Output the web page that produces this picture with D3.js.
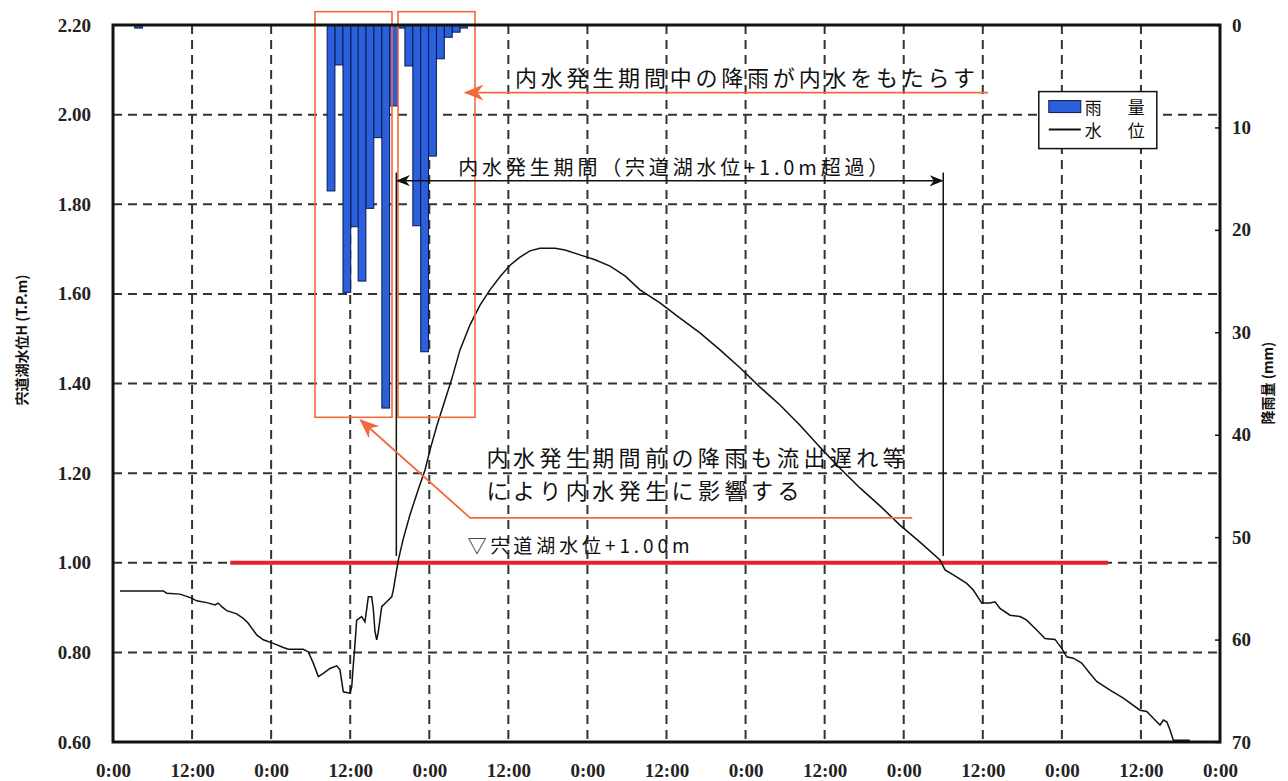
<!DOCTYPE html>
<html>
<head>
<meta charset="utf-8">
<script src="https://cdn.jsdelivr.net/npm/d3@7"></script>
<style>
  body { margin: 0; background: #fff; }
  .tick-label { font-family: "Liberation Serif", "DejaVu Serif", serif; font-size: 19px; font-weight: bold; fill: #222; }
  .jp { font-family: "Noto Sans CJK JP", sans-serif; fill: #111; }
  .axis-title { font-family: "Noto Sans CJK JP", sans-serif; fill: #111; font-weight: bold; font-size: 14px; }
</style>
</head>
<body>
<div id="chart"></div>
<script>
// water level (hours from start, T.P.m)
var levelHours = [1.06, 7.63, 8.15, 10.17, 11.94, 12.70, 14.22, 15.48, 15.98, 16.50, 17.26, 18.77, 19.77, 20.53, 21.81, 22.81,
  24.33, 25.85, 26.60, 28.88, 29.64, 30.40, 31.16, 31.92, 32.93, 33.95, 34.45, 34.95, 35.97, 36.23, 36.47, 36.73, 36.98,
  37.74, 38.24, 38.75, 39.26, 39.50, 39.76, 40.02, 40.26, 40.78, 41.54, 42.30, 42.54, 43.05, 43.30,
  44.01, 45.07, 46.29, 47.35, 48.11, 49.17, 50.39, 51.45, 52.66, 54.18, 55.70, 57.21, 58.73, 60.25, 61.77, 63.28, 64.80,
  67.08, 68.60, 70.87, 73.15, 75.43, 77.70, 79.98, 83.01, 86.05, 89.08, 92.12, 95.15, 98.19, 101.22, 104.26, 107.29,
  110.33, 113.36, 116.40, 119.43, 122.47, 125.50,
  126.27, 127.53, 129.56, 130.56, 131.84, 133.10, 133.85, 134.61, 136.13, 137.65, 138.67, 140.18, 141.44, 142.96, 143.98,
  144.74, 145.74, 147.01, 148.27, 149.29, 151.31, 153.33, 155.86, 156.88, 157.88, 158.90, 159.40, 159.92, 160.42, 160.92, 163.44];
var levelValues = [0.937, 0.937, 0.932, 0.930, 0.921, 0.915, 0.911, 0.906, 0.910, 0.902, 0.893, 0.886, 0.876, 0.865, 0.839, 0.828,
  0.820, 0.811, 0.807, 0.807, 0.801, 0.776, 0.746, 0.753, 0.764, 0.770, 0.761, 0.712, 0.709, 0.723, 0.772, 0.820, 0.872,
  0.880, 0.868, 0.924, 0.924, 0.898, 0.846, 0.828, 0.846, 0.902, 0.913, 0.924, 0.939, 0.984, 1.006,
  1.051, 1.107, 1.162, 1.207, 1.252, 1.307, 1.363, 1.412, 1.475, 1.531, 1.575, 1.609, 1.638, 1.664, 1.682, 1.696, 1.702,
  1.702, 1.698, 1.687, 1.676, 1.662, 1.640, 1.609, 1.580, 1.546, 1.513, 1.475, 1.435, 1.392, 1.352, 1.307, 1.258,
  1.211, 1.167, 1.127, 1.084, 1.046, 1.006,
  0.984, 0.973, 0.954, 0.939, 0.910, 0.910, 0.913, 0.898, 0.883, 0.880, 0.872, 0.850, 0.831, 0.829, 0.809,
  0.790, 0.787, 0.776, 0.753, 0.735, 0.716, 0.698, 0.671, 0.668, 0.653, 0.638, 0.649, 0.645, 0.627, 0.604, 0.604];

// rainfall (bar start hour, mm)
var rainHours = [3.3, 32.5, 33.7, 34.9, 36.1, 37.2, 38.4, 39.6, 40.8, 42.0, 43.2, 44.3, 45.5, 46.7, 47.9, 49.1, 50.3, 51.5, 52.6];
var rainValues = [0.3, 16.2, 3.9, 26.1, 19.7, 25.0, 17.9, 11.0, 37.4, 7.9, 0.3, 4.0, 19.6, 31.9, 12.8, 3.3, 1.2, 0.7, 0.3];
var rainStep = 1.18;

var timeTicks = d3.range(0, 169, 12);
var levelTicks = [0.6, 0.8, 1.0, 1.2, 1.4, 1.6, 1.8, 2.0, 2.2];
var rainTicks = [0, 10, 20, 30, 40, 50, 60, 70];

var width = 1288, height = 781;
var margin = {top: 25, right: 68, bottom: 39, left: 113};
var plotWidth = width - margin.left - margin.right;
var plotHeight = height - margin.top - margin.bottom;

var xs = d3.scaleLinear().domain([0, 168]).range([0, plotWidth]);
var ys = d3.scaleLinear().domain([0.6, 2.2]).range([plotHeight, 0]);
var rs = d3.scaleLinear().domain([0, 70]).range([0, plotHeight]);

var orange = "#f26a3c";

var svg = d3.select("#chart").append("svg").attr("width", width).attr("height", height);
var defs = svg.append("defs");
function marker(id, color, w) {
    defs.append("marker").attr("id", id)
        .attr("viewBox", "0 0 10 10").attr("refX", 9).attr("refY", 5)
        .attr("markerWidth", w).attr("markerHeight", w).attr("orient", "auto-start-reverse")
        .attr("markerUnits", "userSpaceOnUse")
        .append("path").attr("d", "M0,1 L10,5 L0,9 L3,5 Z").attr("fill", color);
}
marker("arrBlack", "#111", 14);
marker("arrOrange", orange, 20);

var plotArea = svg.append("g").attr("transform", "translate(" + margin.left + "," + margin.top + ")");

// grid
var grid = plotArea.append("g").attr("stroke", "#333").attr("stroke-width", 2).attr("stroke-dasharray", "9,6");
grid.selectAll(".gx").data(timeTicks.slice(1, -1)).enter().append("line")
    .attr("x1", function(d){ return xs(d); }).attr("x2", function(d){ return xs(d); })
    .attr("y1", 0).attr("y2", plotHeight);
grid.selectAll(".gy").data(levelTicks.slice(1, -1)).enter().append("line")
    .attr("x1", 0).attr("x2", plotWidth)
    .attr("y1", function(d){ return ys(d); }).attr("y2", function(d){ return ys(d); });

// rain bars hanging from the top
plotArea.append("g").selectAll("rect").data(rainValues).enter().append("rect")
    .attr("x", function(d, i){ return xs(rainHours[i]); })
    .attr("y", 0)
    .attr("width", function(d, i){ return xs(rainHours[i] + rainStep) - xs(rainHours[i]); })
    .attr("height", function(d){ return rs(d); })
    .attr("fill", "#2b5fdc").attr("stroke", "#0a1a50").attr("stroke-width", 1);

// +1.00m line
plotArea.append("line")
    .attr("x1", xs(17.8)).attr("x2", xs(151.0))
    .attr("y1", ys(1.0)).attr("y2", ys(1.0))
    .attr("stroke", "#e8202a").attr("stroke-width", 4);

// water level
var line = d3.line()
    .x(function(d, i){ return xs(levelHours[i]); })
    .y(function(d){ return ys(d); });
plotArea.append("path").datum(levelValues)
    .attr("d", line).attr("fill", "none").attr("stroke", "#111").attr("stroke-width", 1.5);

// orange boxes around rain groups
var boxes = [[30.65, 42.34], [43.25, 54.94]];
plotArea.selectAll(".box").data(boxes).enter().append("rect")
    .attr("x", function(d){ return xs(d[0]); })
    .attr("width", function(d){ return xs(d[1]) - xs(d[0]); })
    .attr("y", rs(-1.3)).attr("height", rs(38.3) - rs(-1.3))
    .attr("fill", "none").attr("stroke", orange).attr("stroke-width", 1.6);

// period markers
var periodStart = 43.0, periodEnd = 126.0;
plotArea.selectAll(".pv").data([periodStart, periodEnd]).enter().append("line")
    .attr("x1", function(d){ return xs(d); }).attr("x2", function(d){ return xs(d); })
    .attr("y1", rs(14.4)).attr("y2", ys(1.015))
    .attr("stroke", "#111").attr("stroke-width", 1.5);
plotArea.append("line")
    .attr("x1", xs(periodStart) + 1).attr("x2", xs(periodEnd) - 1)
    .attr("y1", rs(15.2)).attr("y2", rs(15.2))
    .attr("stroke", "#111").attr("stroke-width", 1.5)
    .attr("marker-start", "url(#arrBlack)").attr("marker-end", "url(#arrBlack)");

// orange arrows
plotArea.append("line")
    .attr("x1", xs(132.8)).attr("x2", xs(53.5))
    .attr("y1", rs(6.6)).attr("y2", rs(6.6))
    .attr("stroke", orange).attr("stroke-width", 1.8)
    .attr("marker-end", "url(#arrOrange)");
plotArea.append("path")
    .attr("d", "M" + xs(121.3) + "," + ys(1.10) + " L" + xs(54.2) + "," + ys(1.10) + " L" + xs(37.6) + "," + ys(1.318))
    .attr("fill", "none").attr("stroke", orange).attr("stroke-width", 1.8)
    .attr("marker-end", "url(#arrOrange)");

// annotation texts
function jpText(txt, x, y, size, len) {
    plotArea.append("text").attr("class", "jp")
        .attr("x", x).attr("y", y)
        .attr("font-size", size)
        .attr("textLength", len).attr("lengthAdjust", "spacing")
        .text(txt);
}
jpText("内水発生期間中の降雨が内水をもたらす", xs(61.0), rs(6.6) - 7, 22, 460);
jpText("内水発生期間（宍道湖水位+1.0m超過）", xs(52.4), rs(15.2) - 6, 20, 430);
jpText("内水発生期間前の降雨も流出遅れ等", xs(56.7), ys(1.215), 22, 418);
jpText("により内水発生に影響する", xs(56.7), ys(1.143), 22, 313);
jpText("▽宍道湖水位+1.00m", xs(53.8), ys(1.022), 19, 222);

// frame
plotArea.append("rect").attr("x", 0).attr("y", 0).attr("width", plotWidth).attr("height", plotHeight)
    .attr("fill", "none").attr("stroke", "#111").attr("stroke-width", 3);

// axes
var leftAxis = d3.axisLeft(ys).tickValues(levelTicks).tickSize(0).tickPadding(22)
    .tickFormat(d3.format(".2f"));
plotArea.append("g").call(leftAxis).call(function(g){
    g.select(".domain").remove();
    g.selectAll("text").attr("class", "tick-label").attr("font-size", null).attr("font-family", null);
});
var rightAxis = d3.axisRight(rs).tickValues(rainTicks).tickSize(-5).tickPadding(12);
plotArea.append("g").attr("transform", "translate(" + plotWidth + ",0)").call(rightAxis).call(function(g){
    g.select(".domain").remove();
    g.selectAll("line").attr("stroke", "#111").attr("stroke-width", 1.5);
    g.selectAll("text").attr("class", "tick-label").attr("font-size", null).attr("font-family", null);
});
var bottomAxis = d3.axisBottom(xs).tickValues(timeTicks).tickSize(0).tickPadding(22)
    .tickFormat(function(d){ return (d % 24 === 0) ? "0:00" : "12:00"; });
plotArea.append("g").attr("transform", "translate(0," + plotHeight + ")").call(bottomAxis).call(function(g){
    g.select(".domain").remove();
    g.selectAll("text").attr("class", "tick-label").attr("font-size", null).attr("font-family", null);
});

// axis titles
svg.append("text").attr("class", "axis-title")
    .attr("transform", "translate(27,340) rotate(-90)")
    .attr("text-anchor", "middle")
    .text("宍道湖水位H (T.P.m)");
svg.append("text").attr("class", "axis-title")
    .attr("transform", "translate(1273,383) rotate(-90)")
    .attr("text-anchor", "middle")
    .text("降雨量 (mm)");

// legend
var legend = plotArea.append("g").attr("transform", "translate(" + xs(140.5) + "," + rs(6.5) + ")");
legend.append("rect").attr("x", 0).attr("y", 0).attr("width", 118).attr("height", 57)
    .attr("fill", "#fff").attr("stroke", "#111").attr("stroke-width", 1.5);
legend.append("rect").attr("x", 10).attr("y", 9).attr("width", 32).attr("height", 12)
    .attr("fill", "#2b5fdc").attr("stroke", "#0a1a50").attr("stroke-width", 1);
legend.append("line").attr("x1", 10).attr("x2", 42).attr("y1", 38).attr("y2", 38)
    .attr("stroke", "#111").attr("stroke-width", 2);
legend.append("text").attr("class", "jp").attr("x", 46).attr("y", 22).attr("font-size", 17)
    .attr("textLength", 60).attr("lengthAdjust", "spacing").text("雨　量");
legend.append("text").attr("class", "jp").attr("x", 46).attr("y", 45).attr("font-size", 17)
    .attr("textLength", 60).attr("lengthAdjust", "spacing").text("水　位");
</script>
</body>
</html>
